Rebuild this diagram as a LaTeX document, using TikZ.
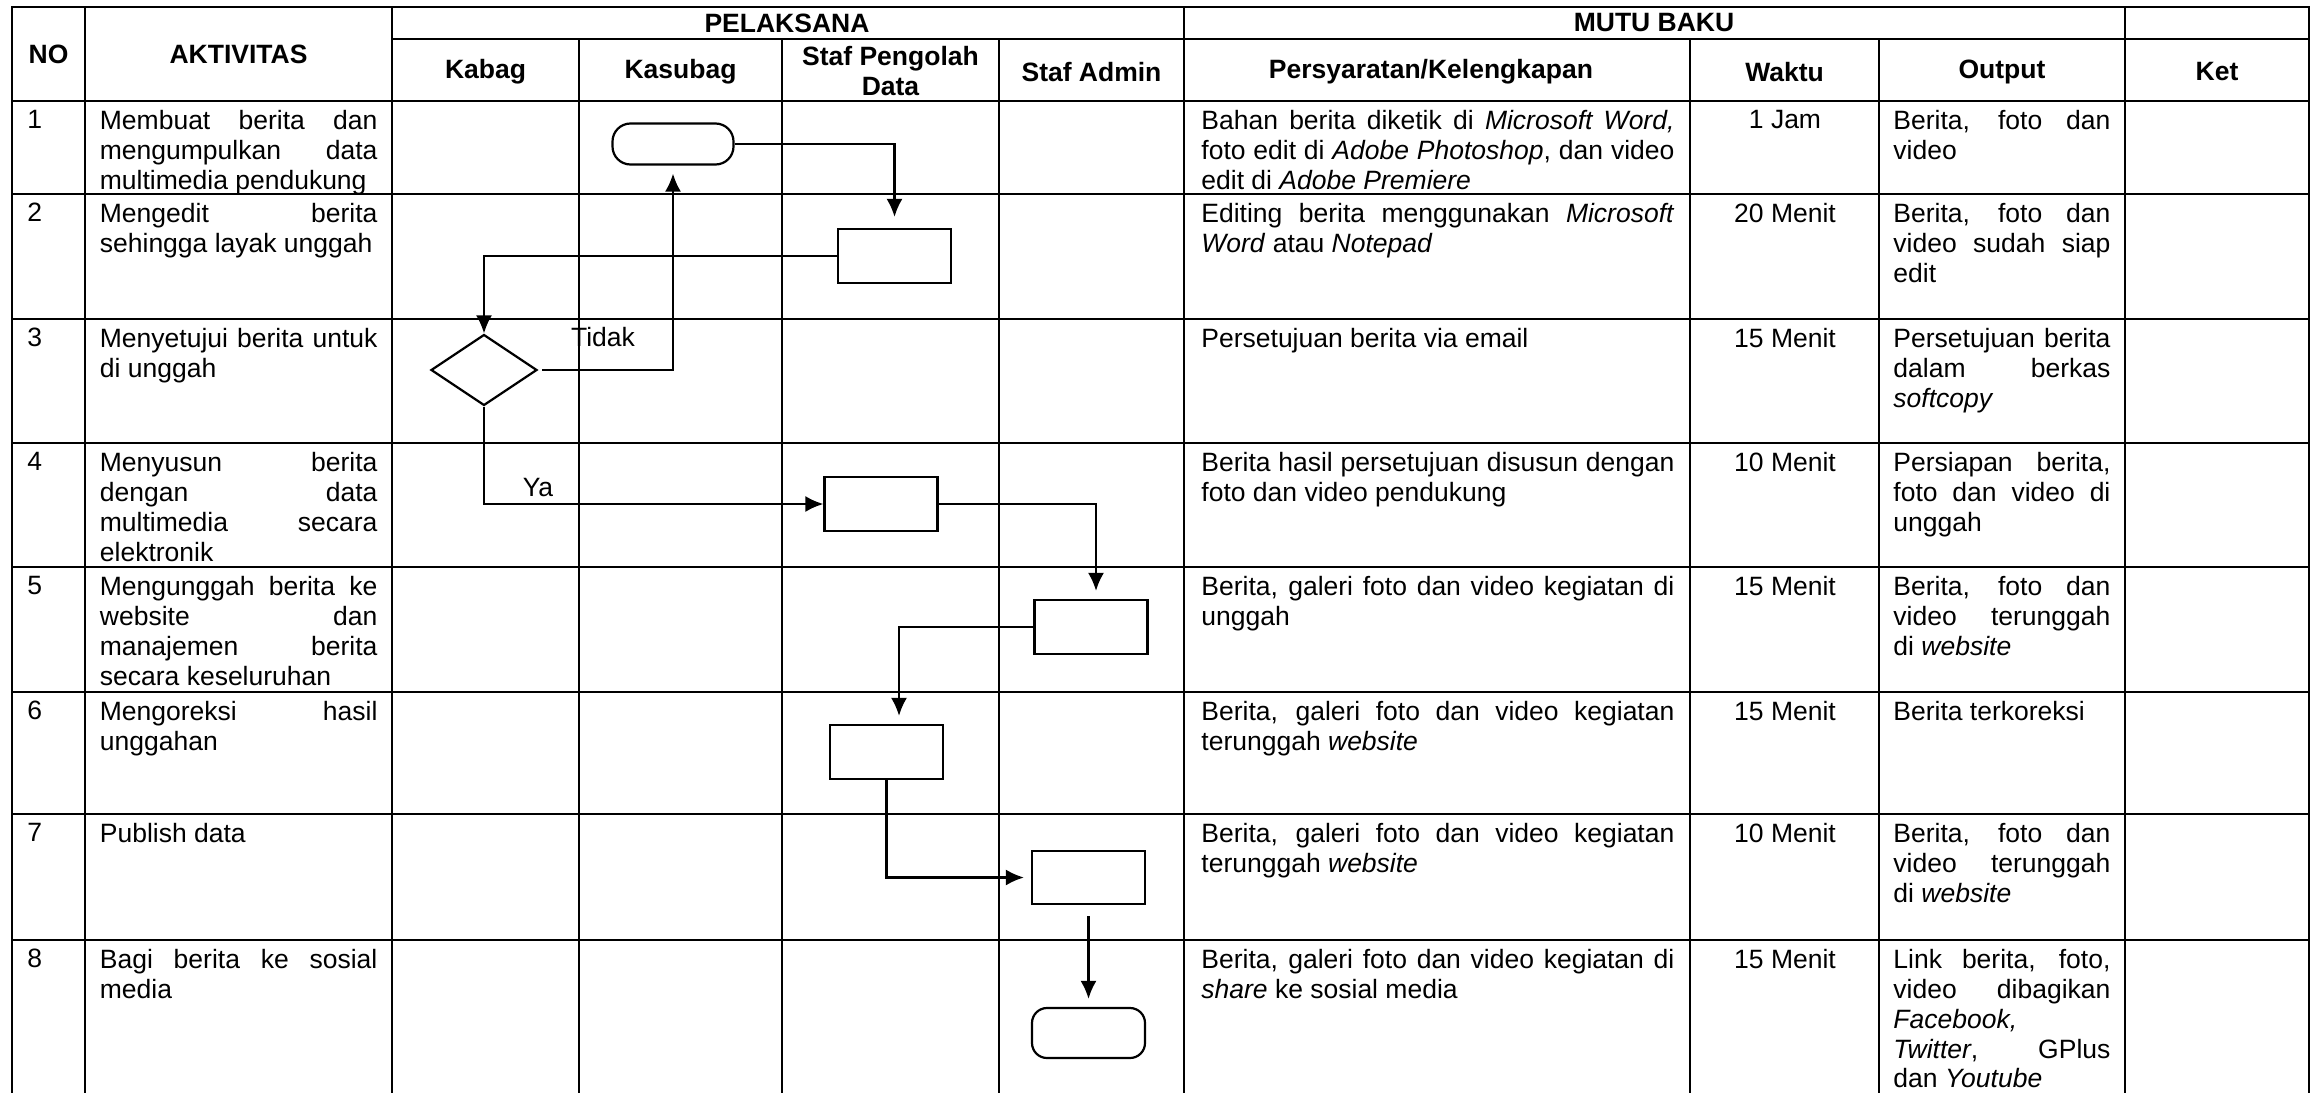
\documentclass[tikz,border=0pt]{standalone}
\usepackage{fontspec}
\setmainfont{Liberation Sans}
\usetikzlibrary{arrows.meta,shapes.geometric}
\setlength{\parindent}{0pt}
\hyphenpenalty=10000
\exhyphenpenalty=10000
\tolerance=10000
\hbadness=10000
\newcommand{\ukuran}{\fontsize{13.25}{14.9}\selectfont}
\newcommand{\baris}[6]{%
  \node[sel] (no#1) at (27,#2+9) {#1};
  \node[isi=138.75pt] (akt#1) at (99.5,#2+9) {#3};
  \node[isi=236.5pt] (syr#1) at (1201,#2+9) {#4};
  \node[sel,anchor=north] (wkt#1) at (1785,#2+9) {#5};
  \node[isi=108.5pt] (out#1) at (1893,#2+9) {#6};
}

\begin{document}
\begin{tikzpicture}[x=0.5pt,y=-0.5pt,font=\ukuran,
    garis/.style={line width=1.2pt,line cap=rect},
    sel/.style={anchor=north west,inner sep=0pt},
    isi/.style={sel,align=justify,text width=#1},
    kepala/.style={font=\ukuran\bfseries,align=center,inner sep=0pt},
    kotak/.style={draw,line width=1.1pt,minimum width=56.5pt,minimum height=27pt,inner sep=0pt},
    mulai/.style={kotak,rounded corners=#1},
    pilih/.style={draw,diamond,line width=1.1pt,minimum width=53pt,minimum height=35.5pt,inner sep=0pt},
    panah/.style={line width=1.1pt,-{Latex[length=9pt,width=8pt]}},
    hv/.style={to path={-| (\tikztotarget)}},
    vh/.style={to path={|- (\tikztotarget)}}]
  \useasboundingbox (0,0) rectangle (2323,1092);

  \foreach \y/\a in {7/12,39/392,101/12,194/12,319/12,443/12,567/12,692/12,814/12,940/12}
    \draw[garis] (\a,\y) -- (2309,\y);
  \foreach \x in {12,85,392,1184,2125,2309}
    \draw[garis] (\x,7) -- (\x,1092);
  \foreach \x in {579,782,999,1690,1879}
    \draw[garis] (\x,39) -- (\x,1092);

  \node[kepala] (hno) at (48.5,54) {NO};
  \node[kepala] (hakt) at (238.5,54) {AKTIVITAS};
  \node[kepala] (hpel) at (787,23) {PELAKSANA};
  \node[kepala] (hmutu) at (1654,23) {MUTU BAKU};
  \node[kepala] (hkabag) at (485.5,72) {Kabag};
  \node[kepala] (hkasubag) at (680.5,72) {Kasubag};
  \node[kepala] (hstaf) at (890.5,71) {Staf Pengolah\\Data};
  \node[kepala] (hadmin) at (1091.5,72) {Staf Admin};
  \node[kepala] (hsyarat) at (1431,72) {Persyaratan/Kelengkapan};
  \node[kepala] (hwaktu) at (1784.5,72) {Waktu};
  \node[kepala] (houtput) at (2002,72) {Output};
  \node[kepala] (hket) at (2217,72) {Ket};

  \baris{1}{101}{Membuat berita dan\linebreak mengumpulkan data\linebreak multimedia pendukung}
    {Bahan berita diketik di \textit{Microsoft Word,}\linebreak foto edit di \textit{Adobe Photoshop}, dan video\linebreak edit di \textit{Adobe Premiere}}
    {1 Jam}{Berita, foto dan\linebreak video}
  \baris{2}{194}{Mengedit berita\linebreak sehingga layak unggah}
    {Editing berita menggunakan \textit{Microsoft}\linebreak \textit{Word} atau \textit{Notepad}}
    {20 Menit}{Berita, foto dan\linebreak video sudah siap\linebreak edit}
  \baris{3}{319}{Menyetujui berita untuk\linebreak di unggah}
    {Persetujuan berita via email}
    {15 Menit}{Persetujuan berita\linebreak dalam berkas\linebreak \textit{softcopy}}
  \baris{4}{443}{Menyusun berita\linebreak dengan data\linebreak multimedia secara\linebreak elektronik}
    {Berita hasil persetujuan disusun dengan\linebreak foto dan video pendukung}
    {10 Menit}{Persiapan berita,\linebreak foto dan video di\linebreak unggah}
  \baris{5}{567}{Mengunggah berita ke\linebreak website dan\linebreak manajemen berita\linebreak secara keseluruhan}
    {Berita, galeri foto dan video kegiatan di\linebreak unggah}
    {15 Menit}{Berita, foto dan\linebreak video terunggah\linebreak di \textit{website}}
  \baris{6}{692}{Mengoreksi hasil\linebreak unggahan}
    {Berita, galeri foto dan video kegiatan\linebreak terunggah \textit{website}}
    {15 Menit}{Berita terkoreksi}
  \baris{7}{814}{Publish data}
    {Berita, galeri foto dan video kegiatan\linebreak terunggah \textit{website}}
    {10 Menit}{Berita, foto dan\linebreak video terunggah\linebreak di \textit{website}}
  \baris{8}{940}{Bagi berita ke sosial\linebreak media}
    {Berita, galeri foto dan video kegiatan di\linebreak \textit{share} ke sosial media}
    {15 Menit}{Link berita, foto,\linebreak video dibagikan\linebreak \textit{Facebook,}\linebreak \textit{Twitter}, GPlus\linebreak dan \textit{Youtube}}

  \node[mulai=9pt,minimum width=60.5pt,minimum height=20.5pt] (t1) at (673,144) {};
  \node[kotak] (b2) at (894.5,256) {};
  \node[pilih] (d3) at (484,370) {};
  \node[kotak] (b4) at (881,504) {};
  \node[kotak] (b5) at (1091,627) {};
  \node[kotak] (b6) at (886.5,752) {};
  \node[kotak,minimum height=26.5pt] (b7) at (1088.5,877.5) {};
  \node[mulai=7.5pt,minimum height=25pt] (t8) at (1088.5,1033) {};
  \node (tidak) at (603,337) {Tidak};
  \node (ya) at (538,488) {Ya};

  \path[panah]
    (t1.east) edge[hv,shorten >=5.5pt] (b2.north)
    (b2.west) edge[hv] (d3.north)
    (d3.east) edge[hv,shorten <=2pt,shorten >=4pt] (t1.south)
    (d3.south) edge[vh] (b4.west)
    (b4.east) edge[hv,shorten >=4pt] ([xshift=2.5pt]b5.north)
    (b5.west) edge[hv,shorten >=4pt] ([xshift=6.25pt]b6.north)
    (b6.south) edge[vh,shorten >=3.5pt] (b7.west)
    (b7.south) edge[shorten <=5.5pt,shorten >=4pt] (t8.north);
\end{tikzpicture}
\end{document}
